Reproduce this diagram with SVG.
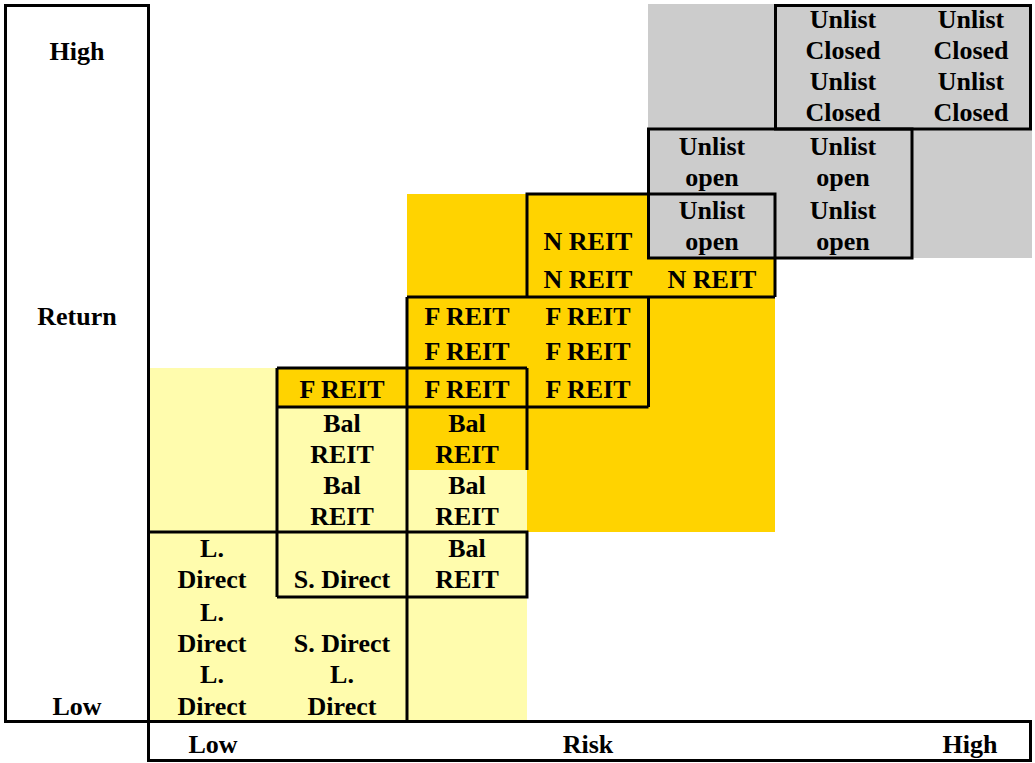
<svg xmlns="http://www.w3.org/2000/svg" width="1035" height="763" viewBox="0 0 1035 763">
<style>
.t{font-family:"Liberation Serif","Times New Roman",serif;font-weight:bold;font-size:26px;fill:#000;text-anchor:middle}
.b{fill:none;stroke:#000;stroke-width:3}
.grey{fill:#CCCCCC}
.gold{fill:#FFD300}
.lite{fill:#FFFCAD}
</style>
<rect width="1035" height="763" fill="#fff"/>
<g id="fills">
<rect class="grey" x="648" y="4" width="384" height="254"/>
<rect class="gold" x="407" y="194" width="241" height="64"/>
<rect class="gold" x="407" y="258" width="368" height="149"/>
<rect class="gold" x="527" y="407" width="248" height="125"/>
<rect class="gold" x="407" y="407" width="120" height="63"/>
<rect class="gold" x="277" y="368" width="130" height="39"/>
<rect class="lite" x="148" y="368" width="129" height="354"/>
<rect class="lite" x="277" y="407" width="130" height="315"/>
<rect class="lite" x="407" y="470" width="120" height="252"/>
</g>
<g id="connectors">
<rect class="b" x="5.5" y="5.5" width="143" height="716"/>
<rect class="b" x="148.5" y="721.5" width="882" height="39"/>
<rect class="b" x="775.5" y="5.5" width="255" height="123.5"/>
<rect class="b" x="648.5" y="129" width="263.5" height="129"/>
<path class="b" d="M648.5,194 H775 V297 M527,297 V194 H648.5 M407,297 H775 M407,722 V297 M648.5,297 V407 M277,407 H648.5 M277,368 H527 M277,368 V597 M527,368 V470 M148.5,532 H527 V597 H277"/>
</g>
<g id="axis-return">
<text class="t" x="77" y="59.5">High</text>
<text class="t" x="77" y="325">Return</text>
<text class="t" x="77" y="715">Low</text>
</g>
<g id="axis-risk">
<text class="t" x="213" y="753">Low</text>
<text class="t" x="588" y="753">Risk</text>
<text class="t" x="970" y="753">High</text>
</g>
<g id="unlist-closed">
<text class="t" x="843" y="28">Unlist</text>
<text class="t" x="843" y="59">Closed</text>
<text class="t" x="843" y="90">Unlist</text>
<text class="t" x="843" y="121">Closed</text>
<text class="t" x="971" y="28">Unlist</text>
<text class="t" x="971" y="59">Closed</text>
<text class="t" x="971" y="90">Unlist</text>
<text class="t" x="971" y="121">Closed</text>
</g>
<g id="unlist-open">
<text class="t" x="712" y="155">Unlist</text>
<text class="t" x="712" y="186">open</text>
<text class="t" x="843" y="155">Unlist</text>
<text class="t" x="843" y="186">open</text>
<text class="t" x="843" y="219">Unlist</text>
<text class="t" x="843" y="250">open</text>
</g>
<g id="unlist-open-inner">
<text class="t" x="712" y="219">Unlist</text>
<text class="t" x="712" y="250">open</text>
</g>
<g id="n-reit">
<text class="t" x="588" y="250">N REIT</text>
<text class="t" x="588" y="288">N REIT</text>
<text class="t" x="712" y="288">N REIT</text>
</g>
<g id="f-reit">
<text class="t" x="467" y="325">F REIT</text>
<text class="t" x="467" y="360">F REIT</text>
<text class="t" x="588" y="325">F REIT</text>
<text class="t" x="588" y="360">F REIT</text>
<text class="t" x="588" y="398">F REIT</text>
</g>
<g id="f-reit-low">
<text class="t" x="342" y="398">F REIT</text>
<text class="t" x="467" y="398">F REIT</text>
</g>
<g id="bal-reit">
<text class="t" x="342" y="432">Bal</text>
<text class="t" x="342" y="463">REIT</text>
<text class="t" x="342" y="494">Bal</text>
<text class="t" x="342" y="525">REIT</text>
<text class="t" x="467" y="432">Bal</text>
<text class="t" x="467" y="463">REIT</text>
<text class="t" x="467" y="494">Bal</text>
<text class="t" x="467" y="525">REIT</text>
</g>
<g id="direct-row">
<text class="t" x="212" y="557">L.</text>
<text class="t" x="212" y="588">Direct</text>
<text class="t" x="342" y="588">S. Direct</text>
</g>
<g id="bal-reit-low">
<text class="t" x="467" y="557">Bal</text>
<text class="t" x="467" y="588">REIT</text>
</g>
<g id="direct-bottom">
<text class="t" x="212" y="621">L.</text>
<text class="t" x="212" y="652">Direct</text>
<text class="t" x="212" y="683">L.</text>
<text class="t" x="212" y="715">Direct</text>
<text class="t" x="342" y="652">S. Direct</text>
<text class="t" x="342" y="683">L.</text>
<text class="t" x="342" y="715">Direct</text>
</g>
</svg>
